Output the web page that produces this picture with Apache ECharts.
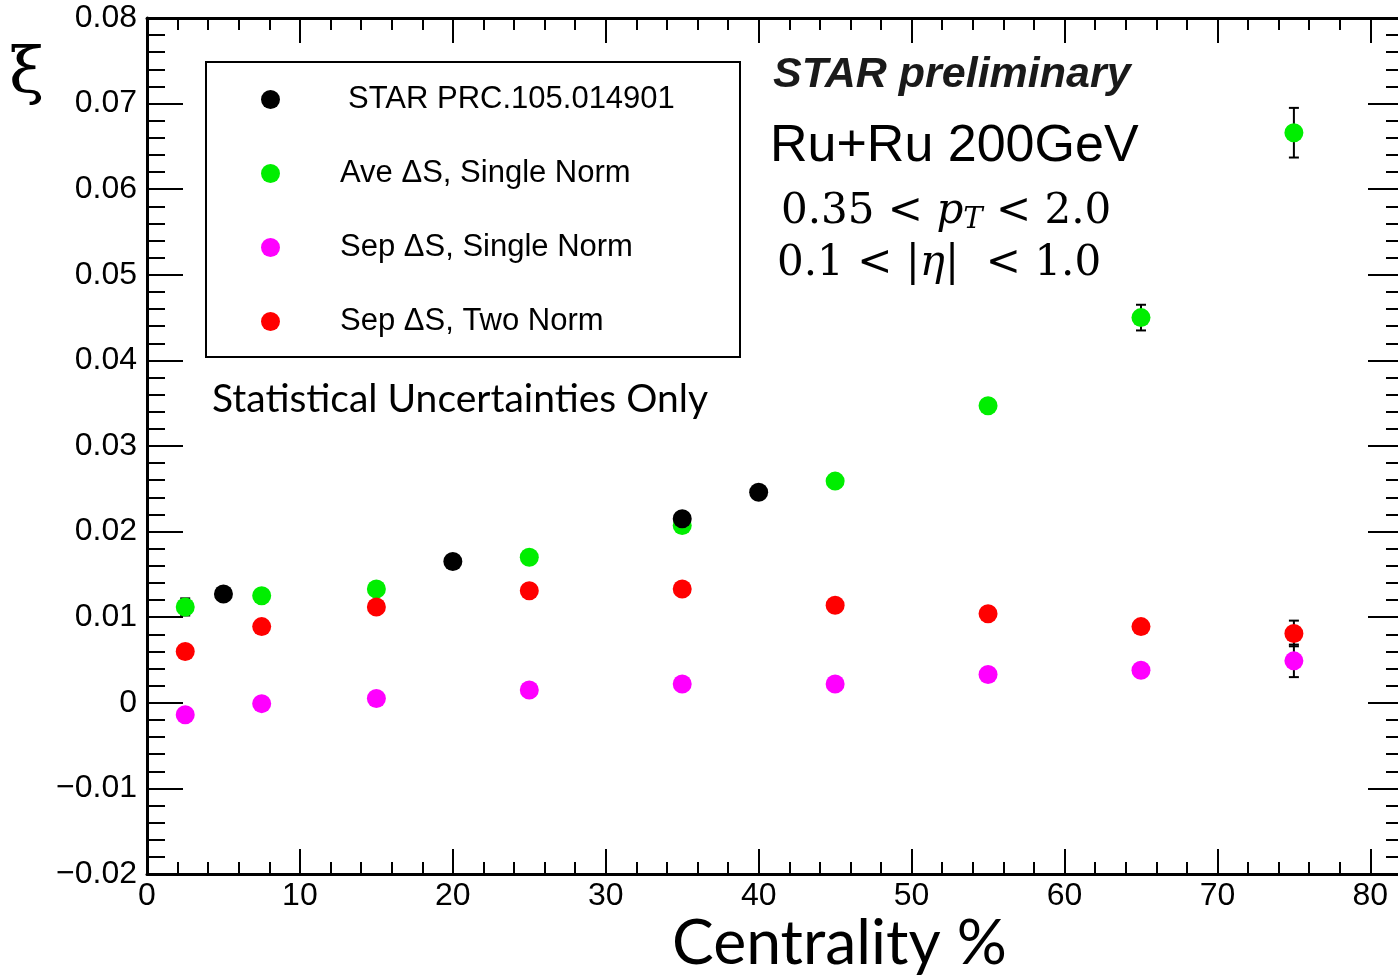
<!DOCTYPE html>
<html>
<head>
<meta charset="utf-8">
<script src="https://cdn.jsdelivr.net/npm/echarts@6/dist/echarts.min.js"></script>
<style>
  html, body { margin: 0; padding: 0; background: #fff; }
  #chart { width: 1398px; height: 978px; }
</style>
</head>
<body>
<div id="chart"></div>
<script>
// centrality bins (%)
var starCent = [5, 20, 35, 40];
var starXi = [0.0127, 0.0165, 0.0215, 0.0246];

var cent = [2.5, 7.5, 15, 25, 35, 45, 55, 65, 75];
var aveSingle = [0.0112, 0.0125, 0.0133, 0.0170, 0.0207, 0.0259, 0.0347, 0.0450, 0.0666];
var aveSingleErr = [0.0010, 0, 0, 0, 0, 0, 0, 0.0015, 0.0029];
var sepSingle = [-0.0014, -0.0001, 0.0005, 0.0015, 0.0022, 0.0022, 0.0033, 0.0038, 0.0049];
var sepSingleErr = [0, 0, 0, 0, 0, 0, 0, 0, 0.0019];
var sepTwo = [0.0060, 0.0089, 0.0112, 0.0131, 0.0133, 0.0114, 0.0104, 0.0089, 0.0081];
var sepTwoErr = [0, 0, 0, 0, 0, 0, 0, 0, 0.0015];

var names = ['STAR PRC.105.014901', 'Ave \u0394S, Single Norm', 'Sep \u0394S, Single Norm', 'Sep \u0394S, Two Norm'];
var colors = ['#000000', '#00ee00', '#ff00ff', '#ff0000'];

function pairs(xs, ys) {
    return xs.map(function (x, i) { return [x, ys[i]]; });
}
function errRows(xs, ys, es) {
    var out = [];
    for (var i = 0; i < xs.length; i++) {
        if (es[i] > 0) out.push([xs[i], ys[i], es[i]]);
    }
    return out;
}

var myChart = echarts.init(document.getElementById('chart'));

var labelFont = { fontFamily: 'Liberation Sans', fontSize: 32, color: '#000' };

function yFmt(v) {
    if (Math.abs(v) < 1e-9) return '0';
    return (v < 0 ? '\u2212' : '') + Math.abs(v).toFixed(2);
}

// vertical error bar with small caps
function errorItem(params, api) {
    var x = api.value(0), y = api.value(1), e = api.value(2);
    var top = api.coord([x, y + e]);
    var bot = api.coord([x, y - e]);
    var cap = 5;
    var st = { stroke: '#000', lineWidth: 2 };
    return {
        type: 'group',
        children: [
            { type: 'line', shape: { x1: top[0], y1: top[1], x2: bot[0], y2: bot[1] }, style: st },
            { type: 'line', shape: { x1: top[0] - cap, y1: top[1], x2: top[0] + cap, y2: top[1] }, style: st },
            { type: 'line', shape: { x1: bot[0] - cap, y1: bot[1], x2: bot[0] + cap, y2: bot[1] }, style: st }
        ]
    };
}

var xBase = {
    type: 'value', min: 0, max: 82.2, interval: 10,
    axisLine: { show: true, onZero: false, lineStyle: { color: '#000', width: 3 } },
    axisTick: { show: true, inside: true, length: 25, lineStyle: { color: '#000', width: 2 } },
    minorTick: { show: true, splitNumber: 5, length: 12, lineStyle: { color: '#000', width: 2 } },
    splitLine: { show: false }
};
var yBase = {
    type: 'value', min: -0.02, max: 0.08, interval: 0.01,
    axisLine: { show: true, onZero: false, lineStyle: { color: '#000', width: 3 } },
    axisTick: { show: true, inside: true, length: 36, lineStyle: { color: '#000', width: 2 } },
    minorTick: { show: true, splitNumber: 5, length: 18, lineStyle: { color: '#000', width: 2 } },
    splitLine: { show: false }
};

var option = {
    backgroundColor: '#fff',
    animation: false,
    grid: { left: 147, top: 18, width: 1257, height: 856, containLabel: false, outerBoundsMode: 'none' },
    xAxis: [
        Object.assign({}, xBase, {
            position: 'bottom',
            axisLabel: Object.assign({ margin: 6, showMaxLabel: false }, labelFont)
        }),
        Object.assign({}, xBase, { position: 'top', axisLabel: { show: false } })
    ],
    yAxis: [
        Object.assign({}, yBase, {
            position: 'left',
            axisLabel: Object.assign({ margin: 10, formatter: yFmt }, labelFont)
        }),
        Object.assign({}, yBase, { position: 'right', axisLabel: { show: false } })
    ],
    legend: {
        orient: 'vertical',
        left: 261, top: 84,
        padding: 0,
        itemWidth: 19, itemHeight: 19,
        itemGap: 43,
        icon: 'circle',
        textStyle: { fontFamily: 'Liberation Sans', fontSize: 31, color: '#000', lineHeight: 31, padding: [0, 0, 0, 55] },
        data: [
            { name: names[0], textStyle: { padding: [0, 0, 0, 63] } },
            names[1], names[2], names[3]
        ]
    },
    graphic: [
        { type: 'rect', shape: { x: 206, y: 62, width: 534, height: 295 },
          style: { fill: 'none', stroke: '#000', lineWidth: 2 }, z: 10 },
        { type: 'text', left: 212, top: 380,
          style: { text: 'Statistical Uncertainties Only', font: '39px Lato', fill: '#000' }, z: 10 },
        { type: 'text', left: 672, top: 912,
          style: { text: 'Centrality %', font: '62.5px Lato', fill: '#000' }, z: 10 },
        { type: 'text', left: 9, top: 43,
          style: { text: '\u03be', font: '64px "DejaVu Serif"', fill: '#000' }, z: 10 },
        { type: 'text', left: 773, top: 54,
          style: { text: 'STAR preliminary', font: 'italic bold 43px "Liberation Sans"', fill: '#1a1a1a' }, z: 10 },
        { type: 'text', left: 770, top: 121,
          style: { text: 'Ru+Ru 200GeV', font: '52px "Liberation Sans"', fill: '#000' }, z: 10 },
        { type: 'text', left: 781, top: 191,
          style: {
              text: '{a|0.35 < }{i|p}{s|T}{a| < 2.0}',
              rich: {
                  a: { fontFamily: 'DejaVu Serif', fontSize: 42, color: '#000' },
                  i: { fontFamily: 'DejaVu Serif', fontStyle: 'italic', fontSize: 42, color: '#000' },
                  s: { fontFamily: 'DejaVu Serif', fontStyle: 'italic', fontSize: 29, color: '#000', padding: [16, 0, 0, 0] }
              }
          }, z: 10 },
        { type: 'text', left: 777, top: 243,
          style: {
              text: '{a|0.1 < |}{i|\u03b7}{a||  < 1.0}',
              rich: {
                  a: { fontFamily: 'DejaVu Serif', fontSize: 42, color: '#000' },
                  i: { fontFamily: 'DejaVu Serif', fontStyle: 'italic', fontSize: 42, color: '#000' }
              }
          }, z: 10 }
    ],
    series: [
        { type: 'custom', renderItem: errorItem, data: errRows(cent, aveSingle, aveSingleErr), z: 1, silent: true },
        { type: 'custom', renderItem: errorItem, data: errRows(cent, sepSingle, sepSingleErr), z: 1, silent: true },
        { type: 'custom', renderItem: errorItem, data: errRows(cent, sepTwo, sepTwoErr), z: 1, silent: true },
        { name: names[1], type: 'scatter', symbolSize: 19, data: pairs(cent, aveSingle), itemStyle: { color: colors[1], opacity: 1 }, z: 2 },
        { name: names[2], type: 'scatter', symbolSize: 19, data: pairs(cent, sepSingle), itemStyle: { color: colors[2], opacity: 1 }, z: 2 },
        { name: names[3], type: 'scatter', symbolSize: 19, data: pairs(cent, sepTwo), itemStyle: { color: colors[3], opacity: 1 }, z: 2 },
        { name: names[0], type: 'scatter', symbolSize: 19, data: pairs(starCent, starXi), itemStyle: { color: colors[0], opacity: 1 }, z: 3 }
    ]
};

myChart.setOption(option);
</script>
</body>
</html>
